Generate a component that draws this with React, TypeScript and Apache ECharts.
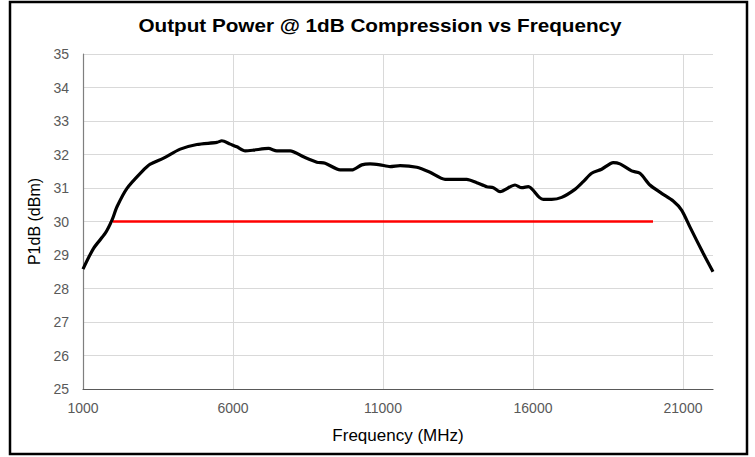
import React, { useEffect, useRef } from "react";
import * as echarts from "echarts";

const titleText = "Output Power @ 1dB Compression vs Frequency";
const xName = "Frequency (MHz)";
const yName = "P1dB (dBm)";

const freqMHz = [
  1000, 1353, 1743, 1966, 2133, 2466, 2965, 3242, 3686, 4241, 4797, 5463, 5630,
  5906, 6130, 6406, 6683, 7183, 7461, 7905, 8348, 8794, 9071, 9571, 9960, 10293,
  10570, 10903, 11236, 11569, 12125, 12569, 13068, 13401, 13791, 14124, 14457,
  14679, 14901, 15401, 15623, 15845, 16210, 16343, 16622, 16955, 17398, 17675,
  17955, 18288, 18675, 18898, 19287, 19564, 19897, 20287, 20673, 20953, 21230,
  21673, 22000,
];
const p1dB = [
  28.58, 29.2, 29.65, 30.04, 30.44, 30.99, 31.49, 31.71, 31.89, 32.16, 32.3,
  32.36, 32.41, 32.31, 32.23, 32.11, 32.13, 32.18, 32.11, 32.11, 31.93, 31.77,
  31.74, 31.54, 31.54, 31.69, 31.72, 31.69, 31.64, 31.67, 31.62, 31.47, 31.26,
  31.26, 31.26, 31.16, 31.04, 31.01, 30.89, 31.09, 31.01, 31.04, 30.72, 30.66,
  30.66, 30.72, 30.96, 31.19, 31.44, 31.56, 31.76, 31.72, 31.51, 31.44, 31.09,
  30.84, 30.61, 30.34, 29.84, 29.05, 28.5,
];

const limitFreq = [2000, 20000];
const limitValue = [30, 30];

const xTicks = [1000, 6000, 11000, 16000, 21000];
const xMin = 1000;
const xMax = 22000;
const xStep = 5000;
const yMin = 25;
const yMax = 35;
const yStep = 1;

export default function App() {
  const ref = useRef<HTMLDivElement>(null);
  useEffect(() => {
    if (!ref.current) return;
    const chart = echarts.init(ref.current, undefined, { renderer: "svg" });
    const font = "Arial, 'Liberation Sans', sans-serif";
    chart.setOption({
      animation: false,
      backgroundColor: "#ffffff",
      textStyle: { fontFamily: font },
      graphic: [
        {
          type: "text",
          x: 380,
          y: 26,
          scaleX: 1.15,
          silent: true,
          style: {
            text: titleText,
            fontSize: 18,
            fontWeight: "bold",
            fontFamily: font,
            fill: "#000000",
            align: "center",
            verticalAlign: "middle",
          },
          z: 100,
        },
        {
          type: "rect",
          shape: { x: 10, y: 2, width: 737, height: 452 },
          style: { fill: "none", stroke: "#000000", lineWidth: 2.5 },
          silent: true,
          z: 100,
        },
      ],
      grid: { left: 83, right: 42, top: 54, bottom: 68 },
      xAxis: {
        type: "value",
        min: xMin,
        max: xMax,
        interval: xStep,
        name: xName,
        nameLocation: "middle",
        nameGap: 38,
        nameTextStyle: { fontSize: 17, color: "#000000", fontFamily: font },
        axisLine: { show: true, lineStyle: { color: "#595959", width: 1.2 } },
        axisTick: { show: false },
        axisLabel: {
          fontSize: 14,
          color: "#595959",
          margin: 12,
          showMaxLabel: false,
          formatter: (v: number) => (xTicks.includes(v) ? String(v) : ""),
        },
        splitLine: { show: false },
      },
      yAxis: {
        type: "value",
        min: yMin,
        max: yMax,
        interval: yStep,
        name: yName,
        nameLocation: "middle",
        nameGap: 35,
        nameTextStyle: { fontSize: 16, color: "#000000", fontFamily: font },
        axisLine: { show: true, lineStyle: { color: "#7f7f7f", width: 1.2 } },
        axisTick: { show: false },
        axisLabel: { fontSize: 14, color: "#595959", margin: 14 },
        splitLine: { show: true, lineStyle: { color: "#d9d9d9", width: 1 } },
      },
      series: [
        {
          type: "line",
          data: freqMHz.map((f, i) => [f, p1dB[i]]),
          showSymbol: false,
          symbol: "none",
          smooth: 0.25,
          lineStyle: { color: "#000000", width: 3.2 },
          z: 5,
          markLine: {
            silent: true,
            symbol: "none",
            label: { show: false },
            lineStyle: { color: "#d9d9d9", width: 1, type: "solid" },
            data: xTicks.slice(1).map((x) => ({ xAxis: x })),
            z: 1,
          },
        },
        {
          type: "line",
          data: limitFreq.map((f, i) => [f, limitValue[i]]),
          showSymbol: false,
          symbol: "none",
          lineStyle: { color: "#ff0000", width: 2.5 },
          z: 4,
        },
      ],
    });
    return () => chart.dispose();
  }, []);
  return (
    <div
      ref={ref}
      style={{ position: "fixed", left: 0, top: 0, width: 755, height: 457 }}
    />
  );
}
